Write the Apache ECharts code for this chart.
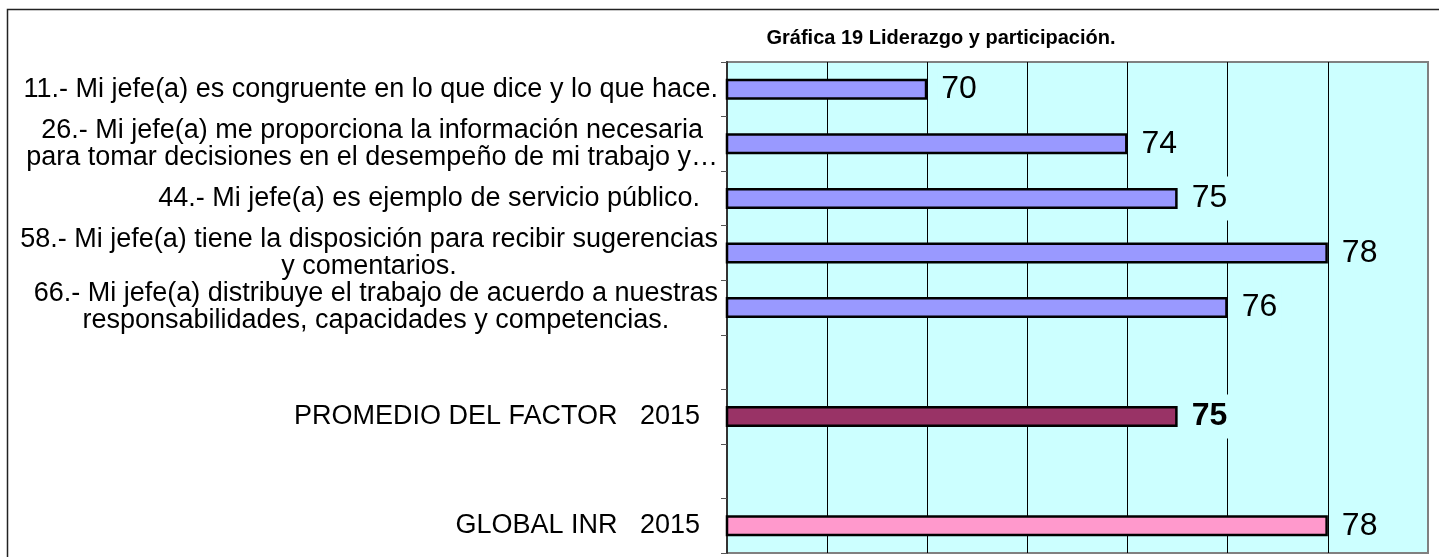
<!DOCTYPE html>
<html>
<head>
<meta charset="utf-8">
<script src="https://cdn.jsdelivr.net/npm/echarts@6/dist/echarts.min.js"></script>
<style>
    html, body { margin: 0; padding: 0; background: #fff; }
    #chart { width: 1439px; height: 557px; }
</style>
</head>
<body>
<div id="chart"></div>
<script>
    // datos de la gráfica
    var categories = [
        '11.- Mi jefe(a) es congruente en lo que dice y lo que hace.',
        '26.- Mi jefe(a) me proporciona la información necesaria\npara tomar decisiones en el desempeño de mi trabajo y…',
        '44.- Mi jefe(a) es ejemplo de servicio público.',
        '58.- Mi jefe(a) tiene la disposición para recibir sugerencias\ny comentarios.',
        '66.- Mi jefe(a) distribuye el trabajo de acuerdo a nuestras\nresponsabilidades, capacidades y competencias.',
        '',
        'PROMEDIO DEL FACTOR   2015',
        '',
        'GLOBAL INR   2015'
    ];
    var values = [70, 74, 75, 78, 76, null, 75, null, 78];
    var xTicks = [66, 68, 70, 72, 74, 76, 78, 80];

    // estilos
    var FONT = 'Arial, "Liberation Sans", sans-serif';
    var barColors = ['#9999ff', '#9999ff', '#9999ff', '#9999ff', '#9999ff', '#9999ff', '#993366', '#9999ff', '#ff99cc'];
    var padRight = {2: 18, 6: 18, 8: 18};

    var chart = echarts.init(document.getElementById('chart'));

    var option = {
        animation: false,
        title: {
            text: 'Gráfica 19 Liderazgo y participación.',
            left: 936,
            top: 23,
            textAlign: 'center',
            textStyle: {fontFamily: FONT, fontSize: 20, fontWeight: 'bold', color: '#000'}
        },
        graphic: [{
            type: 'rect',
            shape: {x: 7.5, y: 9.5, width: 1440, height: 560},
            style: {fill: null, stroke: '#222', lineWidth: 1.5},
            silent: true
        }],
        grid: {
            left: 727, top: 62, right: 11, bottom: 4,
            show: true,
            backgroundColor: '#ccffff',
            borderColor: '#808080',
            borderWidth: 2
        },
        xAxis: {
            type: 'value',
            min: xTicks[0],
            max: xTicks[xTicks.length - 1],
            interval: xTicks[1] - xTicks[0],
            axisLine: {show: false},
            axisTick: {show: false},
            axisLabel: {show: false},
            splitLine: {
                show: true,
                showMinLine: false,
                showMaxLine: false,
                lineStyle: {color: '#000', width: 1}
            }
        },
        yAxis: {
            type: 'category',
            inverse: true,
            data: categories,
            axisLine: {show: true, lineStyle: {color: '#333', width: 2}},
            axisTick: {show: true, length: 6, lineStyle: {color: '#555', width: 1}},
            axisLabel: {
                margin: 9,
                formatter: function (value, idx) {
                    if (!value) return '';
                    var style = padRight[idx] ? 'p' : 'c';
                    return value.split('\n').map(function (l) {
                        return '{' + style + '|' + l + '}';
                    }).join('\n');
                },
                rich: {
                    c: {align: 'center', fontFamily: FONT, fontSize: 27, lineHeight: 27, color: '#000'},
                    p: {align: 'center', fontFamily: FONT, fontSize: 27, lineHeight: 27, color: '#000', padding: [0, 18, 0, 0]}
                }
            }
        },
        series: [{
            type: 'bar',
            barWidth: 21,
            data: values.map(function (v, i) {
                return {
                    value: v,
                    itemStyle: {color: barColors[i], borderColor: '#000', borderWidth: 2.5},
                    label: {fontWeight: i === 6 ? 'bold' : 'normal'}
                };
            }),
            label: {
                show: true,
                position: 'right',
                distance: 10,
                fontFamily: FONT,
                fontSize: 32,
                color: '#000',
                backgroundColor: '#ccffff',
                padding: [6, 4]
            }
        }]
    };
    option && chart.setOption(option);
</script>
</body>
</html>
